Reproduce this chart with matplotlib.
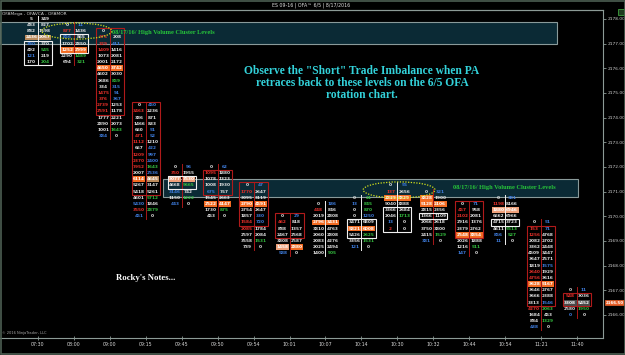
import matplotlib
matplotlib.use('Agg')
import matplotlib.pyplot as plt
from matplotlib.patches import Rectangle, Ellipse

# ---------------- data ----------------
times = ["07:30", "08:00", "09:00", "09:15", "09:45", "09:50", "09:54", "10:01",
         "10:07", "10:14", "10:30", "10:32", "10:44", "10:54", "11:21", "11:40"]
price_ticks = [2166, 2167, 2168, 2169, 2170, 2171, 2172, 2173, 2174, 2175, 2176, 2177, 2178]
last_price = 2166.50

# per column: top price, bid volumes, ask volumes, colour codes (w r b g text, O P T G filled)
c01_top = 2178.00
c01_bid = [5, 483, 882, 2436, 380, 492, 121, 170]
c01_ask = [349, 827, 1598, 2067, 370, 545, 219, 204]
c01_bc, c01_ac = "wwwTbwbw", "wwwTwgwg"

c02_top = 2177.75
c02_bid = [0, 877, 856, 1702, 1252, 2290, 694]
c02_ask = [11, 1436, 865, 2850, 2999, 1489, 321]
c02_bc, c02_ac = "wrbwOww", "bwwwOgg"

c03_top = 2177.50
c03_bid = [0, 375, 329, 1409, 1073, 2001, 4650, 4602, 2686, 334, 1475, 376, 2739, 2591, 1777, 2890, 1001, 384]
c03_ask = [None, 208, 411, 1416, 2081, 2172, 3742, 3030, 859, 315, 91, 367, 1253, 1178, 2221, 2073, 1643, 0]
c03_bc, c03_ac = "wrrrwwOwwwrrrrwwwb", "wwbwwwOwgbbbwwwwgw"

c04_top = 2174.50
c04_bid = [0, 3463, 386, 1466, 660, 471, 1112, 667, 1209, 2370, 7952, 2007, 6114, 5267, 5418, 4601, 5430, 3550, 451]
c04_ask = [450, 2236, 871, 833, 51, 52, 1210, 422, 997, 2400, 1643, 2536, 4645, 3147, 5261, 5712, 1846, 2879, 0]
c04_bc, c04_ac = "wrwwwrrwrrrwOwwwbrb", "bwwwbbwbbbgbTwwgwgw"

c05_top = 2172.00
c05_bid = [0, 350, 3077, 4668, 3146, 1150, 443]
c05_ask = [56, 1955, 3530, 5665, 742, 1222, 0]
c05_bc, c05_ac = "wrPwbwb", "bwPgwgw"

c06_top = 2172.00
c06_bid = [0, 1095, 1078, 1008, 675, 1545, 2522, 1730, 453]
c06_ask = [62, 1880, 1323, 1930, 757, 2663, 4147, 875, 0]
c06_bc, c06_ac = "wrwwbwOww", "bwwwwwOgw"

c07_top = 2171.25
c07_bid = [0, 1770, 3095, 2790, 2754, 1857, 1584, 2085, 2597, 3558, 739]
c07_ask = [47, 2647, 3119, 4591, 2647, 330, 720, 1784, 2084, 1531, 0]
c07_bc, c07_ac = "wrwOwwrrwww", "bwwOwbbwwgw"

c08_top = 2170.00
c08_bid = [0, 462, 888, 2467, 3808, 1458, 588]
c08_ask = [29, 818, 1357, 2568, 2587, 2880, 0]
c08_bc, c08_ac = "wrwwwPb", "bwwwwOw"

c09_top = 2170.50
c09_bid = [0, 448, 2019, 2796, 3810, 2060, 2083, 2025, 1400]
c09_ask = [186, 846, 2808, 3431, 4763, 2808, 4276, 2494, 905]
c09_bc, c09_ac = "wrwOwwwww", "bwwOwwwwg"

c10_top = 2170.75
c10_bid = [0, 13, 0, 0, 3471, 5821, 5426, 3356, 121]
c10_ask = [21, 845, 870, 1250, 6809, 6008, 2625, 1531, 0]
c10_bc, c10_ac = "wbwwwOwwb", "gggbwOggw"

c11_top = 2171.25
c11_bid = [0, 137, 2829, 5040, 3366, 2046, 13, 2]
c11_ask = [55, 2656, 3829, 3888, 2684, 1713, 0, 0]
c11_bc, c11_ac = "wrOwwwbr", "bwOwwgww"

c12_top = 2171.00
c12_bid = [0, 3828, 5128, 2815, 1366, 2066, 3750, 2415, 381]
c12_ask = [321, 1900, 2106, 2356, 1109, 2618, 3800, 1529, 0]
c12_bc, c12_ac = "wOOwwwwwb", "bwOwwwwgw"

c13_top = 2170.50
c13_bid = [0, 457, 2102, 2916, 2379, 2548, 2026, 1216, 147]
c13_ask = [71, 958, 2081, 1376, 2762, 3854, 1888, 511, 0]
c13_bc, c13_ac = "wrrwwOwwb", "bwwwwOwgw"

c14_top = 2170.75
c14_bid = [0, 1198, 1880, 6662, 4715, 4611, 856, 11]
c14_ask = [381, 8166, 6946, 6966, 3723, 5513, 527, 0]
c14_bc, c14_ac = "wrPwwwbb", "bwPwwggw"

c15_top = 2169.75
c15_bid = [0, 153, 1256, 2082, 3362, 4509, 3647, 1819, 2640, 4756, 3628, 3646, 3666, 3313, 4270, 1684, 884, 438]
c15_ask = [51, 71, 4768, 2702, 2448, 3447, 2571, 1575, 1929, 3616, 5167, 2767, 2388, 1546, 2063, 453, 1329, 0]
c15_bc, c15_ac = "wrrwwwwwrrOwwwrwwb", "bbwwwwwbwwOwwbgwgw"

c16_top = 2167.00
c16_bid = [0, 548, 3308, 2580, 0]
c16_ask = [11, 3036, 5452, 1950, 0]
c16_bc, c16_ac = "wrGwb", "bwGgw"

# bar line colour and outline boxes (first row, last row, colour)
line_colors = "wrrrrrrrwwwrrwrr"
boxes = {0: [(4, 7, 'w')], 1: [(2, 4, 'w')], 2: [(0, 13, 'r')], 3: [(0, 14, 'r')],
         4: [(2, 3, 'w')], 5: [(1, 4, 'r')], 6: [(0, 6, 'r')], 7: [(0, 3, 'r')],
         9: [(4, 6, 'w')], 10: [(4, 7, 'w')], 11: [(4, 4, 'w')], 12: [(0, 5, 'r')],
         13: [(4, 4, 'w')], 14: [(1, 13, 'r')], 15: [(1, 2, 'r')]}

# high volume cluster bands: low, high price, x start/end (column units), label x
band_low = [2177.0, 2170.8]
band_high = [2177.875, 2171.5]
band_x0 = [-1.06, 3.48]
band_x1 = [14.44, 15.03]
band_label_x = [2.06, 11.55]
band_label = "08/17/16/ High Volume Cluster Levels"

columns = [
    (c01_top, c01_bid, c01_ask, c01_bc, c01_ac), (c02_top, c02_bid, c02_ask, c02_bc, c02_ac),
    (c03_top, c03_bid, c03_ask, c03_bc, c03_ac), (c04_top, c04_bid, c04_ask, c04_bc, c04_ac),
    (c05_top, c05_bid, c05_ask, c05_bc, c05_ac), (c06_top, c06_bid, c06_ask, c06_bc, c06_ac),
    (c07_top, c07_bid, c07_ask, c07_bc, c07_ac), (c08_top, c08_bid, c08_ask, c08_bc, c08_ac),
    (c09_top, c09_bid, c09_ask, c09_bc, c09_ac), (c10_top, c10_bid, c10_ask, c10_bc, c10_ac),
    (c11_top, c11_bid, c11_ask, c11_bc, c11_ac), (c12_top, c12_bid, c12_ask, c12_bc, c12_ac),
    (c13_top, c13_bid, c13_ask, c13_bc, c13_ac), (c14_top, c14_bid, c14_ask, c14_bc, c14_ac),
    (c15_top, c15_bid, c15_ask, c15_bc, c15_ac), (c16_top, c16_bid, c16_ask, c16_bc, c16_ac),
]

# ---------------- styling ----------------
TXT = {'w': '#e6e6e6', 'r': '#e8302a', 'b': '#3f7ee0', 'g': '#35c040'}
FILL = {'O': '#f26b22', 'P': '#eea07a', 'T': '#b98a5c', 'G': '#4a4a4a'}
LINE = {'w': '#f0f0f0', 'r': '#a81818'}
TICK = 0.25
FS = 3.1

W, H = 625, 355
fig = plt.figure(figsize=(W / 100, H / 100), dpi=100, facecolor='black')
L, R, T, B = 0, 603, 10, 338
ax = fig.add_axes([L / W, 1 - B / H, (R - L) / W, (B - T) / H], facecolor='black')
ax.set_xlim(-38 / 35.93, (603 - 38) / 35.93)
ax.set_ylim(2166 - 23 / 24.67, 2166 + 305 / 24.67)

ax.spines['left'].set_visible(False)
for s in ['top', 'bottom', 'right']:
    ax.spines[s].set_color('#8c9a96')
    ax.spines[s].set_linewidth(0.8)

# bands
for lo, hi, x0, x1, lx in zip(band_low, band_high, band_x0, band_x1, band_label_x):
    ax.add_patch(Rectangle((x0, lo), x1 - x0, hi - lo, facecolor='#0b2a35',
                           edgecolor='#8a9a9a', lw=0.8, zorder=1))
    ax.text(lx, (lo + hi) / 2, band_label, color='#27c63a', fontsize=4.6,
            family='Liberation Serif', fontweight='bold', ha='left', va='center', zorder=6)

# footprint columns
hw = 0.375
for i, (top, bid, ask, bc, ac) in enumerate(columns):
    n = len(bid)
    prices = [top - TICK * k for k in range(n)]
    lc = LINE[line_colors[i]]
    ax.plot([i, i], [prices[0] + TICK / 2, prices[-1] - TICK / 2], color=lc, lw=0.7, zorder=3)
    for k, p in enumerate(prices):
        for val, code, xc, x0 in ((bid[k], bc[k], i - 0.19, i - hw), (ask[k], ac[k], i + 0.19, i + 0.01)):
            if val is None:
                continue
            if code in FILL:
                ax.add_patch(Rectangle((x0, p - TICK / 2 + 0.01), hw - 0.01, TICK - 0.02,
                                       facecolor=FILL[code], edgecolor='none', zorder=2))
                col = '#ffffff'
            else:
                col = TXT[code]
            ax.text(xc, p, str(val), color=col, fontsize=FS, ha='center', va='center',
                    fontweight='bold', zorder=5)
    for (a, b, c) in boxes.get(i, []):
        ax.add_patch(Rectangle((i - hw - 0.02, prices[b] - TICK / 2), 2 * hw + 0.04,
                               prices[a] - prices[b] + TICK, facecolor='none',
                               edgecolor=LINE[c] if c == 'w' else '#b01a1a', lw=0.8, zorder=4))

# dotted ellipses around the cluster prints
ax.add_patch(Ellipse((1.08, 2177.51), 1.95, 0.65, facecolor='none', edgecolor='#d4e21c',
                     lw=0.9, linestyle=(0, (1, 1.2)), zorder=7))
ax.add_patch(Ellipse((10.05, 2171.07), 2.0, 0.65, facecolor='none', edgecolor='#d4e21c',
                     lw=0.9, linestyle=(0, (1, 1.2)), zorder=7))

# axes ticks
ax.set_xticks(range(len(times)))
ax.set_xticklabels(times)
ax.tick_params(axis='x', colors='#8c9a96', labelcolor='#d8d8d8', labelsize=3.4,
               length=2.5, width=0.6, direction='inout', pad=1.5)
ax.yaxis.tick_right()
ax.set_yticks(price_ticks)
ax.set_yticklabels([f"{p:.2f}" for p in price_ticks])
ax.tick_params(axis='y', colors='#8c9a96', labelcolor='#d0d0d0', labelsize=3.2,
               length=2.5, width=0.6, pad=1)

# last price tag
ax.annotate(f"{last_price:.2f}", xy=(1.0, last_price), xycoords=('axes fraction', 'data'),
            xytext=(2.2, 0), textcoords='offset points', ha='left', va='center', fontsize=2.9,
            color='white', fontweight='bold',
            bbox=dict(boxstyle='square,pad=0.2', fc='#e8602a', ec='#e8602a', lw=0.5))

# texts
def fx(x):
    return x / W

def fy(y):
    return 1 - y / H

fig.text(fx(311), fy(5), "ES 09-16 | OFA\u2122 6/5 | 8/17/2016", color='#e0e0e0', fontsize=3.4,
         ha='center', va='center')
fig.text(fx(2), fy(13.5), "OFAMega , OFAVCA , OFAMOR", color='#d0d0d0', fontsize=3.2,
         ha='left', va='center')
fig.text(fx(362), fy(83), 'Observe the "Short" Trade Imbalance when PA\nretraces back to these levels on the 6/5 OFA\nrotation chart.',
         color='#33d2da', fontsize=8.3, family='Liberation Serif', fontweight='bold',
         ha='center', va='center', linespacing=1.0)
fig.text(fx(146), fy(278), "Rocky's Notes...", color='white', fontsize=6.3,
         family='Liberation Serif', fontweight='bold', ha='center', va='center')
fig.text(fx(2), fy(333), "\u00a9 2016 NinjaTrader, LLC", color='#a8a8a8', fontsize=2.6,
         ha='left', va='center')

# corner marker and frame
fig.add_artist(Rectangle((fx(618), fy(15)), 6 / W, 6 / H, transform=fig.transFigure,
                         facecolor='#1f3a1f', edgecolor='#3fa040', lw=0.6))
fig.add_artist(Rectangle((0.0008, 0.0015), 0.9985, 0.997, transform=fig.transFigure,
                         facecolor='none', edgecolor='#4c5e52', lw=1.2))
fig.add_artist(plt.Line2D([0, fx(603)], [fy(9.5), fy(9.5)], transform=fig.transFigure,
                          color='#8c9a96', lw=0.8))

fig.savefig('out.png', dpi=100, facecolor='black')
